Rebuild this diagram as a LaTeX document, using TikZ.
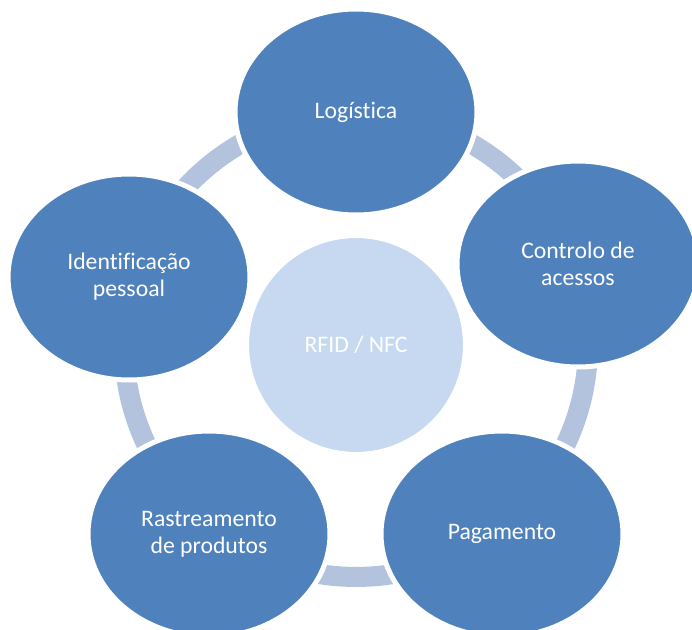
\documentclass[tikz,border=0pt]{standalone}
\usepackage{fontspec}
\setmainfont{Carlito}[Ligatures=CommonOff]
\usepackage{tikz}
\usetikzlibrary{shapes.geometric}
\definecolor{rngblue}{RGB}{79,129,189}
\definecolor{rngarc}{RGB}{179,195,222}
\definecolor{rnglight}{RGB}{198,217,240}
\tikzset{
  ringnode/.style = {align=center, inner sep=0pt, text centered,
    font=\fontsize{13.5}{15.5}\selectfont},
  rng_o/.style = {ringnode, ellipse, white, draw=white, fill=rngblue,
    line width=2.85pt, minimum width=4.84cm, minimum height=4.12cm},% anneau, noeud externe
  rng_c/.style = {ringnode, circle, white, draw=white, fill=rnglight,
    line width=2.85pt, minimum size=4.38cm},% anneau, noeud central
  rng_a/.style = {draw=rngarc, line width=11.4pt}% anneau, liaison
}

\begin{document}
\begin{tikzpicture}[x=0.02cm,y=-0.02cm]
\useasboundingbox (0,0) rectangle (692,629);
\clip (0,0) rectangle (692,629);
\node [rng_c] (T) at (356,345) {RFID / NFC};
\draw [rng_a] (T) circle [radius=4.64cm];

\node [rng_o] (L) at (356,112) {Logística};
\node [rng_o] (C) at (578,264) {Controlo de\\acessos};
\node [rng_o] (P) at (502,534) {Pagamento};
\node [rng_o] (R) at (209,534) {Rastreamento\\de produtos};
\node [rng_o] (I) at (129,277) {Identificação\\pessoal};
\end{tikzpicture}
\end{document}
